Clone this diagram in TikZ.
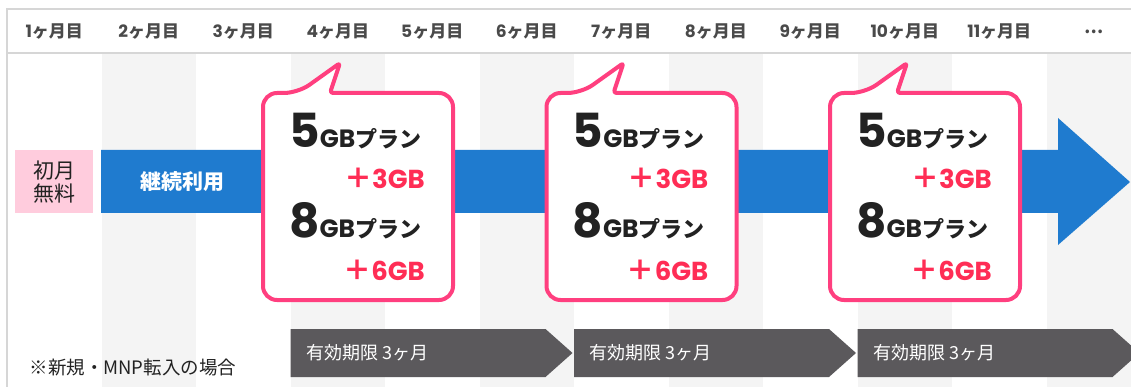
\documentclass[tikz,border=0pt]{standalone}
\usepackage{fontspec}
\setmainfont{Noto Sans CJK JP}
\newfontfamily\numfont{Poppins}
\usepackage{xcolor}
\definecolor{ColStripe}{HTML}{F4F4F4}
\definecolor{ColFrame}{HTML}{D6D6D6}
\definecolor{ColHead}{HTML}{4A4A4A}
\definecolor{ColPink}{HTML}{FFCCDD}
\definecolor{ColBlue}{HTML}{1F7BCF}
\definecolor{ColBubble}{HTML}{FF3F7F}
\definecolor{ColRed}{HTML}{FF2D55}
\definecolor{ColDark}{HTML}{222222}
\definecolor{ColChevron}{HTML}{5B595C}
\tikzstyle{FrameLine}=[ColFrame,line width=1.2pt]
\tikzstyle{HeadText}=[text=ColHead,font=\fontsize{17}{17}\selectfont\bfseries]
\tikzstyle{Bubble}=[draw=ColBubble,fill=white,line width=4pt,line join=round]
\tikzstyle{PlanText}=[anchor=base west,inner sep=0pt,text=ColDark,font=\fontsize{22}{22}\selectfont\bfseries]
\tikzstyle{PlusText}=[anchor=base east,inner sep=0pt,text=ColRed,font=\fontsize{26}{26}\selectfont\numfont\bfseries]
\tikzstyle{Chevron}=[fill=ColChevron]
\tikzstyle{ChevronText}=[anchor=west,text=white,font=\fontsize{18}{18}\selectfont]
\newcommand{\BigNum}[1]{{\numfont\fontsize{47}{47}\selectfont\bfseries #1}}
\newcommand{\GBnum}[1]{{\numfont\bfseries\fontsize{25}{25}\selectfont #1}}
\newcommand{\PlusSign}{{\rmfamily\fontsize{28}{28}\selectfont\bfseries ＋}}

\begin{document}
\begin{tikzpicture}[x=1pt,y=-1pt]
        \useasboundingbox (0,0) rectangle (1131,387);
        \foreach \i in {2,4,...,12}{
            \fill[ColStripe]({7+(\i-1)*94.5},53)rectangle({7+\i*94.5},387);}
        \draw[FrameLine](1131,9)--(7,9)--(7,387);
        \draw[FrameLine](7,53)--(1131,53);
        \foreach \i in {1,...,11}{
            \node[HeadText](Month\i)at({7+(\i-0.5)*94.5},32){{\numfont\bfseries\i}ヶ月目};}
        \node[HeadText](MonthMore)at({7+11.5*94.5},32){…};
        \fill[ColPink](15,150)rectangle(93,213);
        \node[align=center,text=ColDark,font=\fontsize{21}{23}\selectfont](FreeMonth)at(54,182){初月\\無料};
        \fill[ColBlue](101,150)--(1058,150)--(1058,118)--(1130,182)--(1058,245)--(1058,213)--(101,213)--cycle;
        \node[text=white,font=\fontsize{21}{21}\selectfont\bfseries](KeepUse)at(182,182){継続利用};
        \foreach \x [count=\i] in {263,546.5,830}{
            \draw[Bubble,rounded corners=14pt](\x,200)--(\x,93)--({\x+35},93)
                [rounded corners=3pt]--({\x+77},63)--({\x+67},93)
                [rounded corners=14pt]--({\x+190},93)--({\x+190},300)--(\x,300)--cycle;
            \node[PlanText](PlanFive\i)at({\x+26},148){\BigNum{5}\GBnum{GB}プラン};
            \node[PlusText](AddThree\i)at({\x+162},189){\PlusSign 3GB};
            \node[PlanText](PlanEight\i)at({\x+26},237){\BigNum{8}\GBnum{GB}プラン};
            \node[PlusText](AddSix\i)at({\x+162},280){\PlusSign 6GB};
        }
        \foreach \x [count=\i] in {290.5,574,857.5}{
            \fill[Chevron](\x,329)--({\x+255},329)--({\x+282},353)--({\x+255},377)--(\x,377)--cycle;
            \node[ChevronText](Valid\i)at({\x+12},353){有効期限 3ヶ月};
        }
        \node[anchor=west,text=ColDark,font=\fontsize{18.5}{18.5}\selectfont](Note)at(26,368){※新規・MNP転入の場合};
    \end{tikzpicture}
\end{document}
